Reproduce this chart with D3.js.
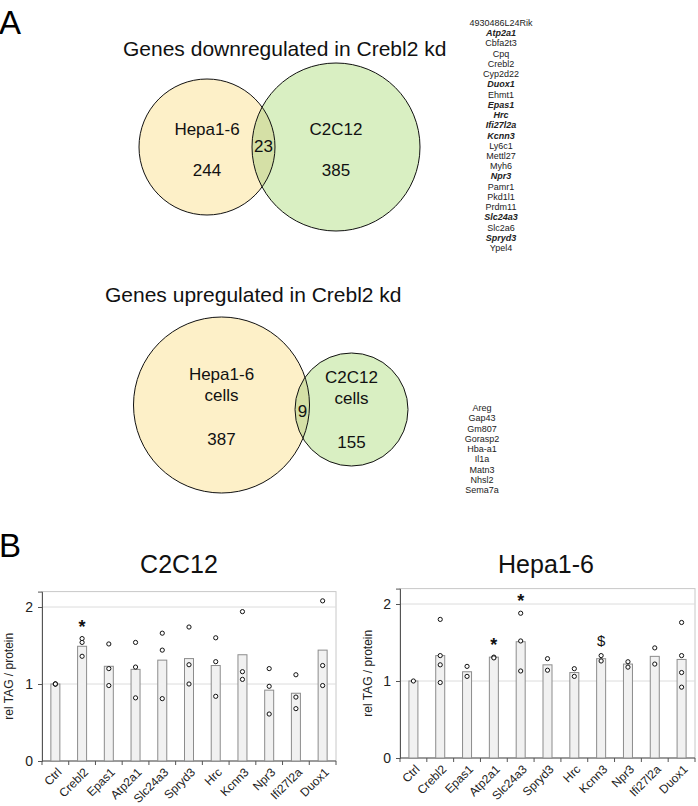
<!DOCTYPE html>
<html><head><meta charset="utf-8">
<script src="https://cdn.jsdelivr.net/npm/d3@7"></script>
<style>body{margin:0;background:#fff}svg{display:block;font-family:Arial,"Liberation Sans",sans-serif}</style>
</head><body><svg id="c" width="698" height="806"></svg>
<script>
// ---------- DATA ----------
const downCounts = [244, 23, 385];          // Hepa1-6 only, both, C2C12 only
const upCounts = [387, 9, 155];
const downGenes = ["4930486L24Rik","Atp2a1","Cbfa2t3","Cpq","Crebl2","Cyp2d22","Duox1","Ehmt1","Epas1","Hrc","Ifi27l2a","Kcnn3","Ly6c1","Mettl27","Myh6","Npr3","Pamr1","Pkd1l1","Prdm11","Slc24a3","Slc2a6","Spryd3","Ypel4"];
const downGenesBold = ["Atp2a1","Duox1","Epas1","Hrc","Ifi27l2a","Kcnn3","Npr3","Slc24a3","Spryd3"];
const upGenes = ["Areg","Gap43","Gm807","Gorasp2","Hba-a1","Il1a","Matn3","Nhsl2","Sema7a"];

const categories = ["Ctrl","Crebl2","Epas1","Atp2a1","Slc24a3","Spryd3","Hrc","Kcnn3","Npr3","Ifi27l2a","Duox1"];
const yTicks = [0, 1, 2];
const c2c12Mean = [1.00,1.49,1.23,1.19,1.31,1.33,1.24,1.38,0.92,0.88,1.44];
const c2c12Reps = [[1.0,1.0,1.0],[1.59,1.54,1.36],[1.52,1.20,0.98],[1.54,1.22,0.82],[1.66,1.44,0.81],[1.74,1.25,1.00],[1.60,1.29,0.84],[1.94,1.16,1.06],[1.20,0.97,0.61],[1.12,0.83,0.68],[2.08,1.24,0.98]];
const c2c12Marks = ["","*","","","","","","","","",""];
const hepaMean = [1.00,1.33,1.12,1.31,1.51,1.21,1.11,1.29,1.22,1.32,1.28];
const hepaReps = [[1.0],[1.80,1.33,1.21,0.98],[1.19,1.06],[1.31,1.30],[1.88,1.52,1.13],[1.29,1.14],[1.16,1.06],[1.33,1.26],[1.25,1.18],[1.43,1.22],[1.76,1.33,1.11,0.92]];
const hepaMarks = ["","","","*","*","","","$","","",""];

// ---------- DRAW ----------
const svg = d3.select("#c");

// panel letters
svg.append("text").attr("x", -1).attr("y", 34).attr("font-size", 33).text("A");
svg.append("text").attr("x", -1).attr("y", 557).attr("font-size", 33).text("B");

function venn(id, cfg) {
  const g = svg.append("g");
  g.append("text").attr("x", cfg.titleX).attr("y", cfg.titleY).attr("font-size", 21).attr("fill", "#111").text(cfg.title);
  const defs = svg.append("defs");
  defs.append("clipPath").attr("id", id).append("circle")
    .attr("cx", cfg.b.cx).attr("cy", cfg.b.cy).attr("r", cfg.b.r);
  g.append("circle").attr("cx", cfg.a.cx).attr("cy", cfg.a.cy).attr("r", cfg.a.r).attr("fill", "#fdf0c8");
  g.append("circle").attr("cx", cfg.b.cx).attr("cy", cfg.b.cy).attr("r", cfg.b.r).attr("fill", "#d9efc2");
  g.append("circle").attr("cx", cfg.a.cx).attr("cy", cfg.a.cy).attr("r", cfg.a.r).attr("fill", "#d5e0a6")
    .attr("clip-path", `url(#${id})`);
  [cfg.a, cfg.b].forEach(c => g.append("circle").attr("cx", c.cx).attr("cy", c.cy).attr("r", c.r)
    .attr("fill", "none").attr("stroke", "#111").attr("stroke-width", 1));
  const txt = (x, y, s) => g.append("text").attr("x", x).attr("y", y).attr("text-anchor", "middle")
    .attr("font-size", 17).attr("fill", "#111").text(s);
  cfg.labelsA.forEach((s, i) => txt(cfg.a.cx, cfg.labelAY + i * 21, s));
  cfg.labelsB.forEach((s, i) => txt(cfg.b.cx, cfg.labelBY + i * 21, s));
  txt(cfg.a.cx, cfg.countAY, cfg.counts[0]);
  txt(cfg.midX, cfg.midY, cfg.counts[1]);
  txt(cfg.b.cx, cfg.countBY, cfg.counts[2]);
}

venn("clipDown", {
  title: "Genes downregulated in Crebl2 kd", titleX: 123, titleY: 56,
  a: {cx: 207, cy: 147, r: 68}, b: {cx: 336, cy: 147, r: 84},
  labelsA: ["Hepa1-6"], labelsB: ["C2C12"], labelAY: 135, labelBY: 135,
  countAY: 176, countBY: 176, midX: 263.5, midY: 152, counts: downCounts
});
venn("clipUp", {
  title: "Genes upregulated in Crebl2 kd", titleX: 105, titleY: 302,
  a: {cx: 221.5, cy: 405, r: 88}, b: {cx: 351.5, cy: 409.5, r: 56.5},
  labelsA: ["Hepa1-6", "cells"], labelsB: ["C2C12", "cells"], labelAY: 380, labelBY: 383,
  countAY: 445, countBY: 448, midX: 302.5, midY: 417, counts: upCounts
});

// gene lists
svg.append("g").selectAll("text").data(downGenes).join("text")
  .attr("x", 501).attr("y", (d, i) => 26 + i * 10.23)
  .attr("text-anchor", "middle").attr("font-size", 9).attr("fill", "#222")
  .attr("font-weight", d => downGenesBold.includes(d) ? "bold" : null)
  .attr("font-style", d => downGenesBold.includes(d) ? "italic" : null)
  .text(d => d);
svg.append("g").selectAll("text").data(upGenes).join("text")
  .attr("x", 482).attr("y", (d, i) => 411 + i * 10.25)
  .attr("text-anchor", "middle").attr("font-size", 9).attr("fill", "#222")
  .text(d => d);

function barChart(cfg) {
  const g = svg.append("g");
  const x = d3.scaleBand().domain(categories).range([cfg.x0, cfg.x1]);
  const y = d3.scaleLinear().domain([0, 2.2]).range([cfg.yZero, cfg.yZero - 2.2 * 77]);
  const yTop = y(2.2);
  g.append("text").attr("x", cfg.titleX).attr("y", 573).attr("text-anchor", "middle")
    .attr("font-size", 25).attr("fill", "#111").text(cfg.title);
  // frame
  g.append("rect").attr("x", cfg.x0).attr("y", yTop).attr("width", cfg.x1 - cfg.x0)
    .attr("height", cfg.yZero - yTop).attr("fill", "none").attr("stroke", "#c8c8c8");
  // gridlines
  g.selectAll(".grid").data(yTicks.filter(t => t > 0)).join("line")
    .attr("x1", cfg.x0).attr("x2", cfg.x1).attr("y1", d => y(d)).attr("y2", d => y(d))
    .attr("stroke", "#dcdcdc");
  // y axis
  const ya = g.append("g").attr("transform", `translate(${cfg.x0},0)`)
    .call(d3.axisLeft(y).tickValues(yTicks).tickFormat(d3.format("d")).tickSize(4).tickPadding(5));
  ya.select(".domain").attr("stroke", "#555");
  ya.selectAll(".tick line").attr("stroke", "#555");
  ya.selectAll("text").attr("font-size", 14).attr("fill", "#222").attr("font-family", "Arial, 'Liberation Sans', sans-serif");
  // x axis
  g.append("line").attr("x1", cfg.x0).attr("x2", cfg.x1).attr("y1", cfg.yZero).attr("y2", cfg.yZero)
    .attr("stroke", "#555");
  const bounds = categories.map(c => x(c)).concat([cfg.x1]);
  g.selectAll(".xt").data(bounds).join("line")
    .attr("x1", d => d).attr("x2", d => d).attr("y1", cfg.yZero).attr("y2", cfg.yZero + 4)
    .attr("stroke", "#555");
  g.selectAll(".xl").data(categories).join("text")
    .attr("transform", d => `translate(${x(d) + x.bandwidth() / 2 + 4},${cfg.yZero + 9}) rotate(-45)`)
    .attr("text-anchor", "end").attr("dy", "0.35em").attr("font-size", 12).attr("fill", "#222")
    .text(d => d);
  // y label
  g.append("text").attr("transform", `translate(${cfg.yLabelX},${(yTop + cfg.yZero) / 2}) rotate(-90)`)
    .attr("text-anchor", "middle").attr("font-size", 12).attr("fill", "#222").text("rel TAG / protein");
  // bars
  const cx = d => x(d) + x.bandwidth() / 2;
  g.selectAll(".bar").data(categories).join("rect")
    .attr("x", d => cx(d) - 4.5).attr("width", 9)
    .attr("y", (d, i) => y(cfg.mean[i])).attr("height", (d, i) => cfg.yZero - y(cfg.mean[i]))
    .attr("fill", "#f1f1f1").attr("stroke", "#8c8c8c").attr("stroke-width", 1);
  // replicate dots
  categories.forEach((c, i) => {
    g.selectAll(null).data(cfg.reps[i]).join("circle")
      .attr("cx", cx(c)).attr("cy", v => y(v)).attr("r", 2.1)
      .attr("fill", "#fff").attr("stroke", "#111").attr("stroke-width", 1);
    const m = cfg.marks[i];
    if (m) {
      const top = y(d3.max(cfg.reps[i])) - 16;
      g.append("text").attr("x", cx(c)).attr("y", m === "*" ? top + 10 : top + 6)
        .attr("text-anchor", "middle").attr("font-size", m === "*" ? 18 : 15)
        .attr("font-weight", m === "*" ? "bold" : null).attr("fill", "#111").text(m);
    }
  });
}

barChart({title: "C2C12", titleX: 179, x0: 42, x1: 336, yZero: 761, yLabelX: 13,
  mean: c2c12Mean, reps: c2c12Reps, marks: c2c12Marks});
barChart({title: "Hepa1-6", titleX: 546, x0: 400, x1: 695, yZero: 758, yLabelX: 372,
  mean: hepaMean, reps: hepaReps, marks: hepaMarks});
</script></body></html>
